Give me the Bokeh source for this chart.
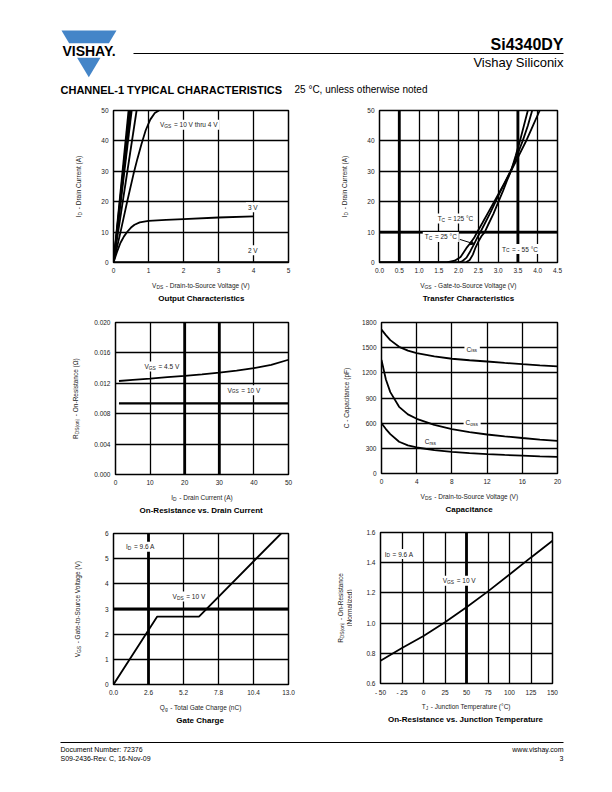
import math
from bokeh.plotting import figure
from bokeh.layouts import column, row
from bokeh.models import (Range1d, FixedTicker, Label, Span, BoxAnnotation,
                          NumeralTickFormatter, Arrow, NormalHead)
from bokeh.embed import file_html
from bokeh.resources import INLINE

FONT = "Liberation Sans"
INK = "#000000"
TXT = "#222222"
BLUE = "#4485c8"

# ---------------- data ----------------
# Output characteristics
out_steep_vds = [[0, 0.43], [0, 0.46], [0, 0.49], [0, 0.52], [0, 0.66]]
out_steep_id = [[0, 50], [0, 50], [0, 50], [0, 50], [0, 50]]
out_4v_vds = [0, 0.2, 0.39, 0.57, 0.68, 0.8, 0.92, 1.05, 1.18, 1.3]
out_4v_id = [0, 10, 20, 29, 34, 39, 43.5, 47, 49.2, 50]
out_3v_vds = [0, 0.1, 0.2, 0.3, 0.4, 0.5, 0.6, 0.75, 1, 1.5, 2, 3, 4]
out_3v_id = [0, 3.5, 6.5, 8.6, 10.2, 11.5, 12.4, 13.2, 13.7, 14.0, 14.3, 14.8, 15.2]
out_2v_vds = [0, 5]
out_2v_id = [0.15, 0.15]

# Transfer characteristics
tr_m55_vgs = [0, 2.18, 2.28, 2.36, 2.43, 2.5, 2.58, 2.66, 2.75, 2.88, 3.0, 3.12, 3.22, 3.33, 3.44, 3.55, 3.65, 3.75]
tr_m55_id = [0, 0, 0.8, 2.6, 5, 6.9, 8.7, 10, 12.5, 16, 19.8, 23.5, 26.8, 30.3, 35, 40, 45, 50]
tr_25_vgs = [0, 2.0, 2.1, 2.2, 2.3, 2.4, 2.5, 2.55, 2.65, 2.8, 2.92, 3.05, 3.2, 3.33, 3.47, 3.62, 3.75, 3.86]
tr_25_id = [0, 0, 0.5, 1.6, 3.8, 6.3, 8.9, 10, 12.5, 16.3, 19.6, 23.2, 27.2, 30.6, 35, 40, 45, 50]
tr_125_vgs = [0, 1.7, 1.9, 2.05, 2.2, 2.3, 2.4, 2.5, 2.6, 2.75, 2.9, 3.05, 3.2, 3.33, 3.5, 3.7, 3.88, 4.05]
tr_125_id = [0, 0, 0.6, 1.8, 4.8, 6.4, 8.3, 10.7, 13, 16.5, 20, 23.5, 27, 30.2, 34.6, 39.8, 45, 50]

# On-resistance vs drain current
rid_id = [1, 5, 10, 15, 20, 25, 30, 35, 40, 45, 50]
rid_45v = [0.0123, 0.01245, 0.01262, 0.0128, 0.01298, 0.01318, 0.0134, 0.01368, 0.0140, 0.01443, 0.0151]
rid_10v = [0.00935, 0.00935, 0.00935, 0.00935, 0.00935, 0.00935, 0.00935, 0.00935, 0.00935, 0.00935, 0.00935]

# Capacitance
cap_vds = [0, 0.5, 1, 2, 3, 4, 6, 8, 10, 12, 14, 16, 18, 20]
cap_ciss = [1715, 1650, 1590, 1510, 1465, 1435, 1395, 1368, 1350, 1335, 1318, 1303, 1290, 1278]
cap_coss = [1355, 1120, 970, 795, 705, 652, 580, 528, 493, 465, 443, 423, 405, 388]
cap_crss = [600, 530, 470, 378, 335, 310, 278, 258, 242, 230, 221, 213, 205, 198]

# Gate charge
gc_qg = [0, 3.25, 6.35, 12.45]
gc_vgs = [0, 2.7, 2.7, 6.0]

# On-resistance vs junction temperature
rt_tj = [-50, -25, 0, 25, 50, 75, 100, 125, 150]
rt_rn = [0.75, 0.835, 0.915, 1.005, 1.105, 1.21, 1.322, 1.435, 1.545]

# ticks
t1x = [0, 1, 2, 3, 4, 5]; t1y = [0, 10, 20, 30, 40, 50]
t2x = [0, 0.5, 1, 1.5, 2, 2.5, 3, 3.5, 4, 4.5]; t2y = [0, 10, 20, 30, 40, 50]
t3x = [0, 10, 20, 30, 40, 50]; t3y = [0, 0.004, 0.008, 0.012, 0.016, 0.020]
t4x = [0, 4, 8, 12, 16, 20]; t4y = [0, 300, 600, 900, 1200, 1500, 1800]
t5x = [0, 2.6, 5.2, 7.8, 10.4, 13.0]; t5y = [0, 1, 2, 3, 4, 5, 6]
t6x = [-50, -25, 0, 25, 50, 75, 100, 125, 150]; t6y = [0.6, 0.8, 1.0, 1.2, 1.4, 1.6]

# ---------------- helpers ----------------
WID = {' ': 278, '-': 333, '(': 333, ')': 333, '.': 278, ',': 278, '=': 584, '°': 400, ':': 278, 'Ω': 768,
       'A': 667, 'B': 667, 'C': 722, 'D': 722, 'E': 667, 'F': 611, 'G': 778, 'H': 722, 'I': 278, 'J': 500,
       'K': 667, 'L': 556, 'M': 833, 'N': 722, 'O': 778, 'P': 667, 'Q': 778, 'R': 722, 'S': 667, 'T': 611,
       'U': 722, 'V': 667, 'W': 944, 'X': 667, 'Y': 667, 'Z': 611,
       'a': 556, 'b': 556, 'c': 500, 'd': 556, 'e': 556, 'f': 278, 'g': 556, 'h': 556, 'i': 222, 'j': 222,
       'k': 500, 'l': 222, 'm': 833, 'n': 556, 'o': 556, 'p': 556, 'q': 556, 'r': 333, 's': 500, 't': 278,
       'u': 556, 'v': 500, 'w': 722, 'x': 500, 'y': 500, 'z': 500}


def tw(s, size):
    return sum(WID.get(c, 556) for c in s) * size / 1000.0


def ident(qx, qy):
    return qx, qy


def plain(f):
    f.outline_line_color = None
    f.grid.visible = False
    f.background_fill_color = "white"
    f.border_fill_color = "white"
    return f


def pxfig(w, h):
    f = figure(width=w, height=h, x_range=Range1d(0, w), y_range=Range1d(h, 0),
               output_backend="svg", toolbar_location=None, title=None, tools="",
               x_axis_type=None, y_axis_type=None)
    f.min_border = 0
    f.min_border_left = f.min_border_right = f.min_border_top = f.min_border_bottom = 0
    return plain(f)


def rich(p, to_data, parts, px, py, size=6.5, angle=0, bg=False, color=TXT, align="center", bold=False):
    sub = size * 0.75
    k = 1.08 if bold else 1.0
    widths = [tw(t, sub if s else size) * k + (0.8 if s else 0) for t, s in parts]
    T = sum(widths)
    start = -T / 2 if align == "center" else (0 if align == "left" else -T)
    if bg:
        l, t_ = to_data(px + start - 2, py - 5)
        r, b = to_data(px + start + T + 2, py + 5)
        p.add_layout(BoxAnnotation(left=l, right=r, top=max(t_, b), bottom=min(t_, b), fill_color="white",
                                   fill_alpha=1, line_color=None, level="underlay"))
    cum = start
    for (t, s), w in zip(parts, widths):
        fs = sub if s else size
        stripped = t.lstrip(" ")
        lead = tw(t[:len(t) - len(stripped)], fs) * k
        pos = cum + lead
        if angle == 0:
            qx, qy = px + pos, py + (1.8 if s else 0)
        else:
            qx, qy = px + (1.8 if s else 0), py - pos
        dx, dy = to_data(qx, qy)
        p.add_layout(Label(x=dx, y=dy, text=stripped, text_align="left", text_baseline="middle",
                           angle=(math.pi / 2 if angle else 0), text_font=FONT,
                           text_font_size=f"{fs}px", text_color=color,
                           text_font_style=("bold" if bold else "normal")))
        cum += w


def cell(cx, cy, fl, fr, ft, fb, xr, yr, xticks, yticks, thick_x=(), thick_y=(), xfmt=None, yfmt=None):
    lb, bb = 28, 16
    rb = cx + 306 - fr
    ylw = fl - cx - lb
    cw = 306 - ylw
    ch = fb - cy + bb
    p = figure(width=cw, height=ch, x_range=Range1d(*xr), y_range=Range1d(*yr),
               output_backend="svg", toolbar_location=None, title=None, tools="")
    p.min_border_left = lb
    p.min_border_right = rb
    p.min_border_top = ft - cy
    p.min_border_bottom = bb
    p.xaxis.ticker = FixedTicker(ticks=xticks)
    p.yaxis.ticker = FixedTicker(ticks=yticks)
    p.xgrid.ticker = FixedTicker(ticks=xticks)
    p.ygrid.ticker = FixedTicker(ticks=yticks)
    for ax in p.axis:
        ax.axis_line_color = None
        ax.major_tick_out = 0
        ax.major_tick_in = 0
        ax.minor_tick_line_color = None
        ax.major_label_standoff = 5
        ax.major_label_text_font = FONT
        ax.major_label_text_font_size = "6.5px"
        ax.major_label_text_color = TXT
    if xfmt:
        p.xaxis.formatter = xfmt
    if yfmt:
        p.yaxis.formatter = yfmt
    p.grid.grid_line_color = INK
    p.grid.grid_line_width = 1.3
    p.outline_line_color = INK
    p.outline_line_width = 1.5
    p.background_fill_color = "white"
    p.border_fill_color = "white"
    for v in thick_x:
        p.add_layout(Span(location=v, dimension="height", line_color=INK, line_width=2.8, level="underlay"))
    for v in thick_y:
        p.add_layout(Span(location=v, dimension="width", line_color=INK, line_width=2.8, level="underlay"))
    fw, fh = fr - fl, fb - ft
    x0, x1 = xr
    y0, y1 = yr

    def to_data(qx, qy):
        return x0 + qx / fw * (x1 - x0), y1 - qy / fh * (y1 - y0)

    def to_px(x, y):
        return (x - x0) / (x1 - x0) * fw, (y1 - y) / (y1 - y0) * fh

    yl = pxfig(ylw, 210)
    caph = 210 - ch
    # caption strip shares the chart's side borders; its frame spans page x fl..fr
    cap = figure(width=cw, height=caph, x_range=Range1d(fl, fr), y_range=Range1d(caph, 0),
                 output_backend="svg", toolbar_location=None, title=None, tools="",
                 x_axis_type=None, y_axis_type=None)
    cap.min_border = 0
    cap.min_border_left = lb
    cap.min_border_right = rb
    cap.min_border_top = 0
    cap.min_border_bottom = 0
    plain(cap)
    geo = dict(cx=cx, cy=cy, fl=fl, fr=fr, ft=ft, fb=fb, ch=ch)
    lay = row(yl, column(p, cap))
    return p, to_data, to_px, yl, cap, geo, lay


def note(p, to_data, to_px, parts, x, y):
    px, py = to_px(x, y)
    rich(p, to_data, parts, px, py, bg=True)


def decorate(yl, cap, geo, xlab, ylab, title, ylab_x):
    lx = (geo['fl'] + geo['fr']) / 2
    rich(cap, ident, xlab, lx, 7)
    rich(cap, ident, [(title, False)], lx, 20, size=8, bold=True, color=INK)
    my = (geo['ft'] + geo['fb']) / 2 - geo['cy']
    if isinstance(ylab[0], list):
        rich(yl, ident, ylab[0], ylab_x - geo['cx'], my, angle=90)
        rich(yl, ident, ylab[1], ylab_x - geo['cx'] + 9, my, angle=90)
    else:
        rich(yl, ident, ylab, ylab_x - geo['cx'], my, angle=90)


N, S = False, True

# ---------------- Output characteristics ----------------
p1, d1, x1p, yl1, cap1, g1, lay1 = cell(0, 100, 113, 288, 110, 262, (0, 5), (0, 50), t1x, t1y)
p1.multi_line(xs=out_steep_vds, ys=out_steep_id, line_color=INK, line_width=1.8)
p1.line(out_4v_vds, out_4v_id, line_color=INK, line_width=1.8)
p1.line(out_3v_vds, out_3v_id, line_color=INK, line_width=1.8)
p1.line(out_2v_vds, out_2v_id, line_color=INK, line_width=1.8)
note(p1, d1, x1p, [("V", N), ("GS", S), (" = 10 V thru 4 V", N)], 2.15, 45.3)
note(p1, d1, x1p, [("3 V", N)], 3.98, 18.2)
note(p1, d1, x1p, [("2 V", N)], 3.98, 4.0)
decorate(yl1, cap1, g1, [("V", N), ("DS", S), (" - Drain-to-Source Voltage (V)", N)],
         [("I", N), ("D", S), (" - Drain Current (A)", N)], "Output Characteristics", 78)

# ---------------- Transfer characteristics ----------------
p2, d2, x2p, yl2, cap2, g2, lay2 = cell(306, 100, 379, 557, 110, 262, (0, 4.5), (0, 50), t2x, t2y,
                                       thick_x=(0.5, 3.5), thick_y=(10,),
                                       xfmt=NumeralTickFormatter(format="0.0"))
p2.line(tr_m55_vgs, tr_m55_id, line_color=INK, line_width=1.8)
p2.line(tr_25_vgs, tr_25_id, line_color=INK, line_width=1.8)
p2.line(tr_125_vgs, tr_125_id, line_color=INK, line_width=1.8)
note(p2, d2, x2p, [("T", N), ("C", S), (" = 125 °C", N)], 1.92, 14.5)
note(p2, d2, x2p, [("T", N), ("C", S), (" = 25 °C", N)], 1.55, 8.4)
note(p2, d2, x2p, [("T", N), ("C", S), (" = - 55 °C", N)], 3.55, 4.4)
p2.add_layout(Arrow(end=NormalHead(size=4, fill_color=INK, line_color=INK), x_start=2.03, y_start=7.6,
                    x_end=2.4, y_end=6.1, line_color=INK, line_width=1))
decorate(yl2, cap2, g2, [("V", N), ("GS", S), (" - Gate-to-Source Voltage (V)", N)],
         [("I", N), ("D", S), (" - Drain Current (A)", N)], "Transfer Characteristics", 344)

# ---------------- On-resistance vs drain current ----------------
p3, d3, x3p, yl3, cap3, g3, lay3 = cell(0, 310, 115, 288, 322, 474, (0, 50), (0, 0.020), t3x, t3y,
                                       thick_x=(20, 30), yfmt=NumeralTickFormatter(format="0.000"))
p3.line(rid_id, rid_45v, line_color=INK, line_width=1.8)
p3.line(rid_id, rid_10v, line_color=INK, line_width=2.2)
note(p3, d3, x3p, [("V", N), ("GS", S), (" = 4.5 V", N)], 13.4, 0.0142)
note(p3, d3, x3p, [("V", N), ("GS", S), (" = 10 V", N)], 37.1, 0.0111)
decorate(yl3, cap3, g3, [("I", N), ("D", S), (" - Drain Current (A)", N)],
         [("R", N), ("DS(on)", S), (" - On-Resistance (Ω)", N)], "On-Resistance vs. Drain Current", 75)

# ---------------- Capacitance ----------------
p4, d4, x4p, yl4, cap4, g4, lay4 = cell(306, 310, 381, 557, 322, 473, (0, 20), (0, 1800), t4x, t4y)
p4.line(cap_vds, cap_ciss, line_color=INK, line_width=1.8)
p4.line(cap_vds, cap_coss, line_color=INK, line_width=1.8)
p4.line(cap_vds, cap_crss, line_color=INK, line_width=1.8)
note(p4, d4, x4p, [("C", N), ("iss", S)], 10.3, 1483)
note(p4, d4, x4p, [("C", N), ("oss", S)], 10.3, 605)
note(p4, d4, x4p, [("C", N), ("rss", S)], 5.6, 384)
decorate(yl4, cap4, g4, [("V", N), ("DS", S), (" - Drain-to-Source Voltage (V)", N)],
         [("C - Capacitance (pF)", N)], "Capacitance", 346)

# ---------------- Gate charge ----------------
p5, d5, x5p, yl5, cap5, g5, lay5 = cell(0, 520, 113, 288, 533, 684, (0, 13), (0, 6), t5x, t5y,
                                       thick_x=(2.6,), thick_y=(3,),
                                       xfmt=NumeralTickFormatter(format="0.0"))
p5.line(gc_qg, gc_vgs, line_color=INK, line_width=1.8)
note(p5, d5, x5p, [("I", N), ("D", S), (" = 9.6 A", N)], 2.0, 5.47)
note(p5, d5, x5p, [("V", N), ("DS", S), (" = 10 V", N)], 5.6, 3.5)
decorate(yl5, cap5, g5, [("Q", N), ("g", S), (" - Total Gate Charge (nC)", N)],
         [("V", N), ("GS", S), (" - Gate-to-Source Voltage (V)", N)], "Gate Charge", 77)

# ---------------- On-resistance vs junction temperature ----------------
p6, d6, x6p, yl6, cap6, g6, lay6 = cell(306, 520, 380, 552, 532, 683, (-50, 150), (0.6, 1.6), t6x, t6y,
                                       thick_x=(50,), yfmt=NumeralTickFormatter(format="0.0"))
p6.xaxis.major_label_overrides = {-50: "- 50", -25: "- 25"}
p6.line(rt_tj, rt_rn, line_color=INK, line_width=1.8)
note(p6, d6, x6p, [("I", N), ("D", S), (" = 9.6 A", N)], -28.5, 1.457)
note(p6, d6, x6p, [("V", N), ("GS", S), (" = 10 V", N)], 41.5, 1.28)
decorate(yl6, cap6, g6, [("T", N), ("J", S), (" - Junction Temperature (°C)", N)],
         [[("R", N), ("DS(on)", S), (" - On-Resistance", N)], [("(Normalized)", N)]],
         "On-Resistance vs. Junction Temperature", 340)

# ---------------- header ----------------
hdr = pxfig(612, 100)
hdr.patches(xs=[[61, 116, 108.4, 68.6], [76.6, 100.0, 88.3]], ys=[[30, 30, 42.7, 42.7], [57.3, 57.3, 76.7]],
            fill_color=BLUE, line_color=None)
hdr.add_layout(Label(x=88.5, y=50, text="VISHAY.", text_align="center", text_baseline="middle",
                     text_font=FONT, text_font_size="14px", text_font_style="bold", text_color=INK))
hdr.segment(x0=[133], y0=[53], x1=[563], y1=[53], line_color=INK, line_width=1.2)
hdr.add_layout(Label(x=563, y=44, text="Si4340DY", text_align="right", text_baseline="middle",
                     text_font=FONT, text_font_size="16px", text_font_style="bold", text_color=INK))
hdr.add_layout(Label(x=563, y=62, text="Vishay Siliconix", text_align="right", text_baseline="middle",
                     text_font=FONT, text_font_size="13px", text_color=INK))
hdr.add_layout(Label(x=60, y=89, text="CHANNEL-1 TYPICAL CHARACTERISTICS", text_align="left",
                     text_baseline="middle", text_font=FONT, text_font_size="11px",
                     text_font_style="bold", text_color=INK))
hdr.add_layout(Label(x=294, y=89, text="25 °C, unless otherwise noted", text_align="left",
                     text_baseline="middle", text_font=FONT, text_font_size="10px", text_color=INK))

# ---------------- footer ----------------
ftr = pxfig(612, 62)
ftr.segment(x0=[60], y0=[12], x1=[563], y1=[12], line_color=INK, line_width=1.2)
for (tx, ty, al, s) in [(60, 19, "left", "Document Number: 72376"), (60, 28, "left", "S09-2436-Rev. C, 16-Nov-09"),
                        (563, 19, "right", "www.vishay.com"), (563, 28, "right", "3")]:
    ftr.add_layout(Label(x=tx, y=ty, text=s, text_align=al, text_baseline="middle", text_font=FONT,
                         text_font_size="7px", text_color=INK))

layout = column(hdr, row(lay1, lay2), row(lay3, lay4), row(lay5, lay6), ftr)
open("out.html", "w").write(file_html(layout, INLINE))
